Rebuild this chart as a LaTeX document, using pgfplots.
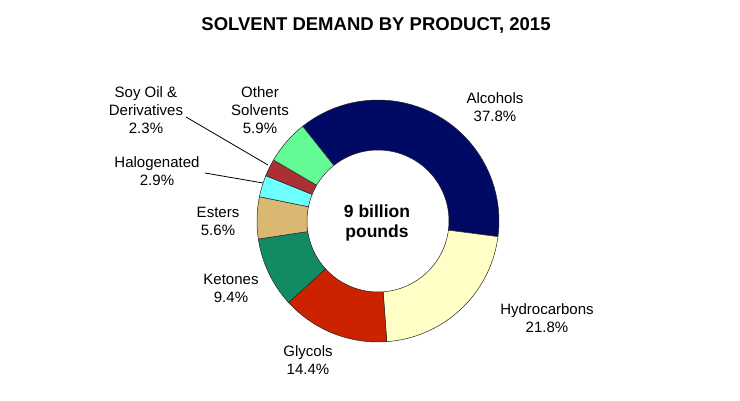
\documentclass[border=0pt]{standalone}
\usepackage{pgfplots}
\pgfplotsset{compat=1.18}
\usepackage{fontspec}
\setmainfont{Liberation Sans}
\definecolor{cAlc}{RGB}{0,10,100}
\definecolor{cHyd}{RGB}{255,255,198}
\definecolor{cGly}{RGB}{204,34,0}
\definecolor{cKet}{RGB}{18,138,100}
\definecolor{cEst}{RGB}{219,184,114}
\definecolor{cHal}{RGB}{110,255,255}
\definecolor{cSoy}{RGB}{170,48,52}
\definecolor{cOth}{RGB}{100,250,150}
\def\cum{0}
\newcommand\slice[2]{%
  \pgfmathsetmacro\sa{128.5-\cum*3.596404}%
  \pgfmathsetmacro\sb{128.5-(\cum+#2)*3.596404}%
  \edef\temp{\noexpand\addplot[fill=#1, draw=black!85, line width=0.5pt, mark=none, samples at={0,1,...,82}]
   ({378+((x<40.5 || x>81.5) ? 121 : 71)*cos((x<40.5) ? (\sa+(\sb-\sa)*x/40) : ((x<81.5) ? (\sb-(\sb-\sa)*(x-41)/40) : \sa))},
    {179+((x<40.5 || x>81.5) ? 121 : 71)*sin((x<40.5) ? (\sa+(\sb-\sa)*x/40) : ((x<81.5) ? (\sb-(\sb-\sa)*(x-41)/40) : \sa))}) -- cycle;}%
  \temp
  \pgfmathsetmacro\newcum{\cum+#2}%
  \xdef\cum{\newcum}%
}
\begin{document}
\begin{tikzpicture}
\begin{axis}[
  width=740pt, height=400pt, scale only axis,
  xmin=0, xmax=740, ymin=0, ymax=400,
  hide axis, clip=false,
]
\path (axis cs:0,0) rectangle (axis cs:740,400);
\slice{cAlc}{37.8}
\slice{cHyd}{21.8}
\slice{cGly}{14.4}
\slice{cKet}{9.4}
\slice{cEst}{5.6}
\slice{cHal}{2.9}
\slice{cSoy}{2.3}
\slice{cOth}{5.9}
\node[font=\bfseries\fontsize{18.5}{22}\selectfont] at (axis cs:376,375) {SOLVENT DEMAND BY PRODUCT, 2015};
\node[font=\bfseries\fontsize{17.5}{19.5}\selectfont, align=center] at (axis cs:377,177) {9 billion\\pounds};
\tikzset{lab/.style={font=\fontsize{15}{18}\selectfont, align=center}}
\node[lab] at (axis cs:495,292.5) {Alcohols\\37.8\%};
\node[lab] at (axis cs:547,82) {Hydrocarbons\\21.8\%};
\node[lab] at (axis cs:308,40) {Glycols\\14.4\%};
\node[lab] at (axis cs:231,111.5) {Ketones\\9.4\%};
\node[lab] at (axis cs:218,178.5) {Esters\\5.6\%};
\node[lab] at (axis cs:157,228.5) {Halogenated\\2.9\%};
\node[lab] at (axis cs:146,290) {Soy Oil \&\\Derivatives\\2.3\%};
\node[lab] at (axis cs:260,290) {Other\\Solvents\\5.9\%};
\draw[black, line width=0.8pt] (axis cs:186,283) -- (axis cs:268,235);
\draw[black, line width=0.8pt] (axis cs:205,227) -- (axis cs:263,217);
\end{axis}
\end{tikzpicture}
\end{document}
